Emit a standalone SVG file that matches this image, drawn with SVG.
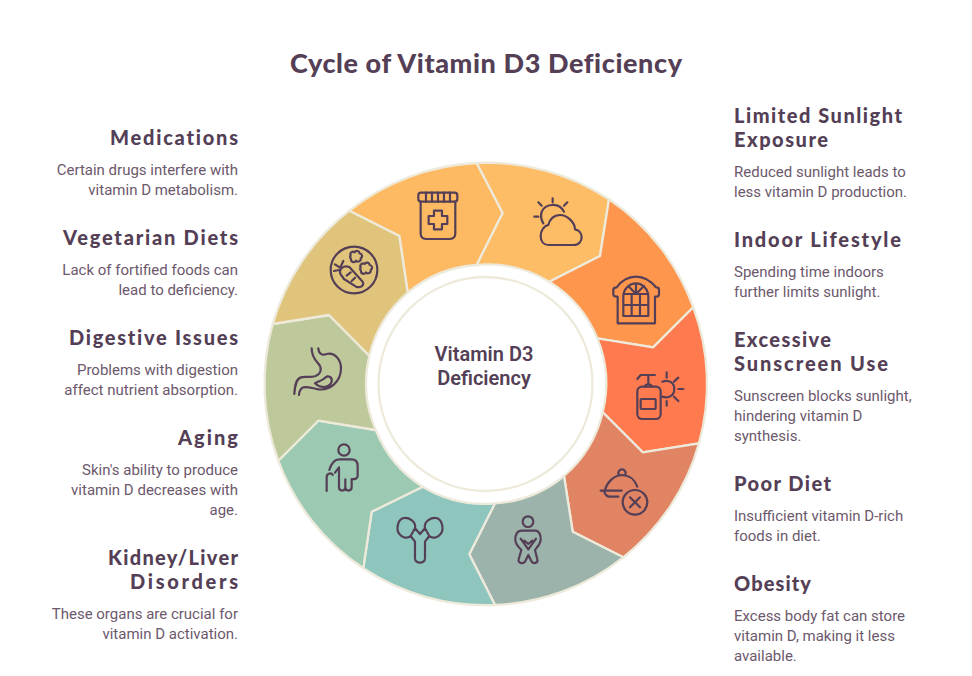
<svg xmlns="http://www.w3.org/2000/svg" width="972" height="676" viewBox="0 0 972 676">
<style>
.seg{stroke:#EEEADB;stroke-width:2.3;stroke-linejoin:round}
.ic{fill:none;stroke:#543F56;stroke-width:2.2;stroke-linecap:round;stroke-linejoin:round;vector-effect:non-scaling-stroke}
.ic *{vector-effect:non-scaling-stroke}
.h{font-family:"Lato","Liberation Sans",sans-serif;font-weight:900;font-size:20px;fill:#543F56;font-variant-ligatures:none}
.b{font-family:"Roboto","Liberation Sans",sans-serif;font-size:15px;fill:#6C586C}
.r{text-anchor:end}
.c{font-family:Roboto,"Liberation Sans",sans-serif;font-weight:600;font-size:20px;fill:#543F56;text-anchor:middle}
</style>
<rect width="972" height="676" fill="#fff"/>
<text id="title" x="290" y="73" class="h" style="font-size:27px" textLength="392" lengthAdjust="spacing">Cycle of Vitamin D3 Deficiency</text>

<g id="node-medications">
<path class="seg" fill="#FDBA63" d="M349.3 210.7A221 221 0 0 1 476.7 163L502.7 213L476.7 265A119.3 119.3 0 0 0 407.7 292.7L399.3 236Z"/>
<g class="ic" transform="translate(260,150) scale(.3333)"><rect x="475" y="128" width="117" height="27" rx="8"/><path d="M498 128V155M516 128V155M534 128V155M552 128V155M570 128V155M482 155V250Q482 267 498 267H570Q586 267 586 250V155M522 182H546V198H562V222H546V238H522V222H506V198H522Z"/></g>
<text x="238" y="145" class="h r" textLength="128" lengthAdjust="spacing">Medications</text>
<text x="238" y="175" class="b r">Certain drugs interfere with</text><text x="238" y="195" class="b r">vitamin D metabolism.</text>
</g>

<g id="node-sunlight">
<path class="seg" fill="#FDBC66" d="M476.7 163A221 221 0 0 1 609 199.3L600 256L549.3 281.7A119.3 119.3 0 0 0 476.7 265L502.7 213Z"/>
<g class="ic" transform="translate(480,150) scale(.3333)"><path d="M190 220C175 195 185 168 215 165C232 163 245 172 252 185M218 145V157M175 157L185 167M262 157L252 167M163 200H175M205 285H280C298 285 305 272 305 262C305 250 297 240 285 238C285 218 262 195 240 195C222 195 208 208 205 225C190 228 182 245 182 258C182 275 192 285 205 285Z"/></g>
<text x="734" y="123" class="h" textLength="168" lengthAdjust="spacing">Limited Sunlight</text><text x="734" y="147" class="h" textLength="94" lengthAdjust="spacing">Exposure</text>
<text x="734" y="177" class="b">Reduced sunlight leads to</text><text x="734" y="197" class="b">less vitamin D production.</text>
</g>

<g id="node-indoor">
<path class="seg" fill="#FF964D" d="M609 199.3A221 221 0 0 1 693.3 307.3L653.3 347.3L597.3 338.3A119.3 119.3 0 0 0 549.3 281.7L600 256Z"/>
<g class="ic" transform="translate(480,150) scale(.3333)"><path d="M413 520H525V440H530Q537 440 537 432V418Q537 412 528 412C510 390 490 380 468 380C445 380 425 392 410 412Q400 412 400 420V432Q400 440 410 440H413ZM430 498H505V440C505 418 488 400 468 400C447 400 430 418 430 440ZM430 432H505M430 465H505M455 432V498M480 432V498M468 432V400M468 432L445 408M468 432L492 408"/></g>
<text x="734" y="247" class="h" textLength="167" lengthAdjust="spacing">Indoor Lifestyle</text>
<text x="734" y="277" class="b">Spending time indoors</text><text x="734" y="297" class="b">further limits sunlight.</text>
</g>

<g id="node-sunscreen">
<path class="seg" fill="#FF7B4F" d="M693.3 307.3A221 221 0 0 1 699 443.3L642.7 452.3L602.7 412.3A119.3 119.3 0 0 0 597.3 338.3L653.3 347.3Z"/>
<g class="ic" transform="translate(620,365) scale(.3333)"><rect x="52" y="65" width="70" height="97" rx="14"/><rect x="62" y="102" width="45" height="30" rx="2"/><path d="M52 42L62 30H105M85 30V58M75 65Q76 58 85 58Q94 58 95 65M127 50C148 42 163 55 163 72C163 90 148 102 127 95M140 22V38M175 38L162 50M175 72H190M162 95L175 108M140 108V122"/></g>
<text x="734" y="347" class="h" textLength="97" lengthAdjust="spacing">Excessive</text><text x="734" y="371" class="h" textLength="154" lengthAdjust="spacing">Sunscreen Use</text>
<text x="734" y="401" class="b">Sunscreen blocks sunlight,</text><text x="734" y="421" class="b">hindering vitamin D</text><text x="734" y="441" class="b">synthesis.</text>
</g>

<g id="node-poor-diet">
<path class="seg" fill="#E08463" d="M699 443.3A221 221 0 0 1 623.3 557.3L572.7 531.7L564 476A119.3 119.3 0 0 0 602.7 412.3L642.7 452.3Z"/>
<g class="ic" transform="translate(480,380) scale(.3333)"><path d="M375 330C382 305 402 287 425 285C448 285 465 300 472 320M362 332H425M372 332C375 345 380 350 390 350H415M416 284A11 11 0 1 1 436 284"/><circle cx="465" cy="367" r="37"/><path d="M450 352L480 382M480 352L450 382"/></g>
<text x="734" y="491" class="h" textLength="97" lengthAdjust="spacing">Poor Diet</text>
<text x="734" y="521" class="b">Insufficient vitamin D-rich</text><text x="734" y="541" class="b">foods in diet.</text>
</g>

<g id="node-obesity">
<path class="seg" fill="#9BB3AB" d="M623.3 557.3A221 221 0 0 1 495 605L469.3 554.3L495 503.3A119.3 119.3 0 0 0 564 476L572.7 531.7Z"/>
<g class="ic" transform="translate(480,380) scale(.3333)"><circle cx="144" cy="425" r="16"/><path d="M125 452H165C178 452 183 465 182 480C180 495 168 505 165 510L172 538C175 550 160 552 155 545L145 525L135 545C130 552 112 550 116 538L124 510C120 505 107 495 106 480C105 465 112 452 125 452ZM122 476L145 508L168 476M133 482L145 492L157 482"/></g>
<text x="734" y="591" class="h" textLength="77" lengthAdjust="spacing">Obesity</text>
<text x="734" y="621" class="b">Excess body fat can store</text><text x="734" y="641" class="b">vitamin D, making it less</text><text x="734" y="661" class="b">available.</text>
</g>

<g id="node-kidney">
<path class="seg" fill="#8EC6BE" d="M495 605A221 221 0 0 1 363.3 568.3L371.7 511.7L422.7 486.7A119.3 119.3 0 0 0 495 503.3L469.3 554.3Z"/>
<g class="ic" transform="translate(260,380) scale(.3333)"><path d="M452 468C440 478 425 472 418 462C408 450 412 422 428 415C445 410 470 425 465 445ZM508 468C520 478 535 472 542 462C552 450 548 422 532 415C515 410 490 425 495 445ZM465 445L480 462L495 445M452 468L465 485V535C465 552 495 552 495 535V485L508 468"/></g>
<text x="238" y="565" class="h r" textLength="130" lengthAdjust="spacing">Kidney/Liver</text><text x="238" y="589" class="h r" textLength="108" lengthAdjust="spacing">Disorders</text>
<text x="238" y="619" class="b r">These organs are crucial for</text><text x="238" y="639" class="b r">vitamin D activation.</text>
</g>

<g id="node-aging">
<path class="seg" fill="#9CC9B2" d="M363.3 568.3A221 221 0 0 1 278.3 460.7L318.3 420.7L375.7 430A119.3 119.3 0 0 0 422.7 486.7L371.7 511.7Z"/>
<g class="ic" transform="translate(260,380) scale(.3333)"><circle cx="252" cy="210" r="17"/><path d="M208 270C214 250 222 238 238 238H275C288 238 293 245 293 258V288C293 296 285 298 275 297V322C275 335 256 335 256 322V298M256 322C256 335 237 335 237 322V262L225 278M200 333V292C200 278 218 278 218 285"/></g>
<text x="238" y="445" class="h r" textLength="60" lengthAdjust="spacing">Aging</text>
<text x="238" y="475" class="b r">Skin's ability to produce</text><text x="238" y="495" class="b r">vitamin D decreases with</text><text x="238" y="515" class="b r">age.</text>
</g>

<g id="node-digestive">
<path class="seg" fill="#BEC99B" d="M278.3 460.7A221 221 0 0 1 272.7 324L329 315L369.3 355.7A119.3 119.3 0 0 0 375.7 430L318.3 420.7Z"/>
<g class="ic" transform="translate(285,340) scale(.3333)"><path d="M80 25C80 45 88 58 98 68C112 82 110 100 92 108C75 114 62 108 48 112C35 116 30 130 28 162M100 25C100 40 112 48 125 42C150 36 168 60 168 85C168 125 135 152 100 148C82 146 70 138 55 142C46 146 43 152 42 165M90 130C100 122 110 125 122 112C130 105 143 112 140 125C135 142 108 148 90 130Z"/></g>
<text x="238" y="345" class="h r" textLength="169" lengthAdjust="spacing">Digestive Issues</text>
<text x="238" y="375" class="b r">Problems with digestion</text><text x="238" y="395" class="b r">affect nutrient absorption.</text>
</g>

<g id="node-vegetarian">
<path class="seg" fill="#E0C47C" d="M272.7 324A221 221 0 0 1 349.3 210.7L399.3 236L407.7 292.7A119.3 119.3 0 0 0 369.3 355.7L329 315Z"/>
<g class="ic" transform="translate(320,235) scale(.3333)"><circle cx="102" cy="105" r="70"/><path d="M62 118C55 103 70 90 88 96L128 140C134 152 120 160 108 155L72 132ZM62 95L70 78M60 98L45 88M58 105L42 108M92 112L80 122M105 128L95 138M92 62A8 8 0 0 1 104 52A8 8 0 0 1 119 55A8 8 0 0 1 122 70A8 8 0 0 1 108 77A8 8 0 0 1 93 72A8 8 0 0 1 92 62ZM122 97A8 8 0 0 1 134 87A8 8 0 0 1 149 90A8 8 0 0 1 152 105A8 8 0 0 1 138 112A8 8 0 0 1 123 107A8 8 0 0 1 122 97Z"/></g>
<text x="238" y="245" class="h r" textLength="175" lengthAdjust="spacing">Vegetarian Diets</text>
<text x="238" y="275" class="b r">Lack of fortified foods can</text><text x="238" y="295" class="b r">lead to deficiency.</text>
</g>

<g id="node-center">
<circle cx="485.5" cy="384" r="107" fill="#fff" stroke="#EEEADB" stroke-width="2.3"/>
<text x="484" y="361" class="c">Vitamin D3</text>
<text x="484" y="385" class="c">Deficiency</text>
</g>
</svg>
